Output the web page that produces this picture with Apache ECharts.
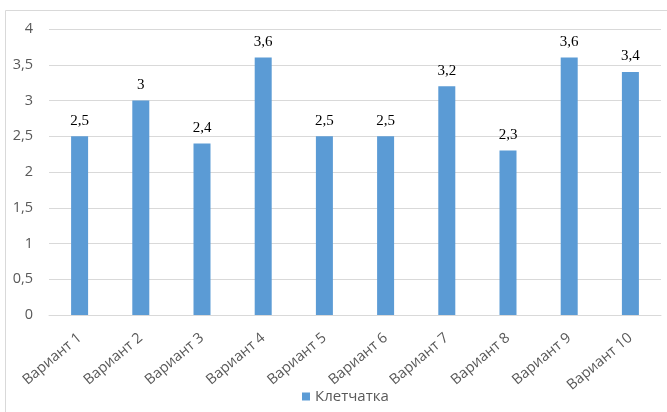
<!DOCTYPE html>
<html><head><meta charset="utf-8">
<script src="https://cdn.jsdelivr.net/npm/echarts@6/dist/echarts.min.js"></script>
<style>html,body{margin:0;padding:0;background:#fff}#c{width:667px;height:412px}</style>
</head><body><div id="c"></div>
<script>
const categories = ['Вариант 1','Вариант 2','Вариант 3','Вариант 4','Вариант 5','Вариант 6','Вариант 7','Вариант 8','Вариант 9','Вариант 10'];
const seriesName = 'Клетчатка';
const values = [2.5, 3, 2.4, 3.6, 2.5, 2.5, 3.2, 2.3, 3.6, 3.4];
const yMin = 0, yMax = 4, yStep = 0.5;

const fmt = v => String(v).replace('.', ',');
const chart = echarts.init(document.getElementById('c'), null, {renderer:'canvas'});
chart.setOption({
  animation: false,
  backgroundColor: '#fff',
  graphic: [{
    type: 'polyline', silent: true,
    shape: { points: [[5.5, 412], [5.5, 10.5], [667, 10.5]] },
    style: { stroke: '#d9d9d9', lineWidth: 1, fill: null }
  }],
  grid: { left: 49, right: 6, top: 29, bottom: 97 },
  legend: {
    data: [seriesName], left: 297, top: 384,
    itemWidth: 8, itemHeight: 8, icon: 'rect', itemGap: 5,
    textStyle: { color: '#595959', fontSize: 15, fontFamily: 'Open Sans' }
  },
  xAxis: {
    type: 'category', data: categories,
    axisLine: { lineStyle: { color: '#d9d9d9' } },
    axisTick: { show: false },
    axisLabel: { rotate: 40, color: '#595959', fontSize: 14.5, fontFamily: 'Open Sans', margin: 21, interval: 0 }
  },
  yAxis: {
    type: 'value', min: yMin, max: yMax, interval: yStep,
    axisLine: { show: false }, axisTick: { show: false },
    splitLine: { lineStyle: { color: '#d9d9d9' } },
    axisLabel: { color: '#595959', fontSize: 14.5, fontFamily: 'Open Sans', margin: 16, formatter: fmt }
  },
  series: [{
    name: seriesName, type: 'bar', data: values, barWidth: 17,
    itemStyle: { color: '#5B9BD5' },
    label: { show: true, position: 'top', distance: 8, color: '#000', fontSize: 15,
      fontFamily: 'Liberation Serif', formatter: p => fmt(p.value) }
  }]
});
</script></body></html>
